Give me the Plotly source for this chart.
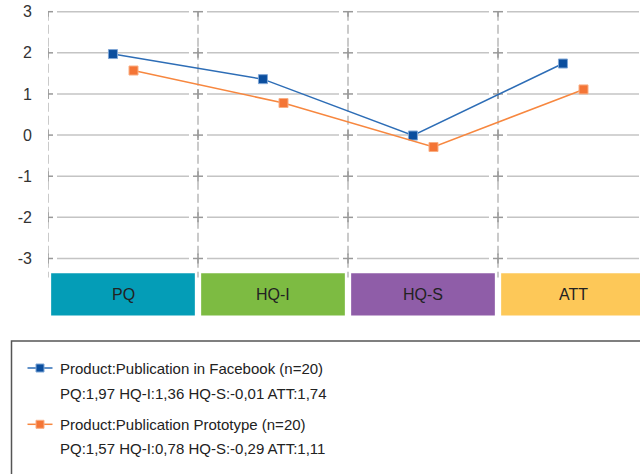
import plotly.graph_objects as go

categories = ["PQ", "HQ-I", "HQ-S", "ATT"]
cat_colors = ["#049DB7", "#7DBB42", "#8F5DA8", "#FDC858"]
series_names = ["Product:Publication in Facebook (n=20)", "Product:Publication Prototype (n=20)"]
facebook = [1.97, 1.36, -0.01, 1.74]
prototype = [1.57, 0.78, -0.29, 1.11]
y_ticks = [-3, -2, -1, 0, 1, 2, 3]

W, H = 640, 474
PX_X = 150.0          # pixels per category
PX_Y = 41.13          # pixels per y unit
left_px = 48
y_top = 3 + 11.7 / PX_Y
y_bot = 3 - (H - 11.7) / PX_Y
x_min = -0.5
x_max = -0.5 + (W - left_px) / PX_X

line_cols = ["#2D6DB6", "#F7873F"]
mark_cols = ["#0B4E9E", "#F47536"]
mark_edge = ["#7FA6D6", "#F9AE83"]
offsets = [-0.067, 0.07]

fig = go.Figure()
for s, (vals, name) in enumerate([(facebook, series_names[0]), (prototype, series_names[1])]):
    fig.add_trace(go.Scatter(
        x=[i + offsets[s] for i in range(len(categories))], y=vals, name=name,
        mode="lines+markers",
        line=dict(color=line_cols[s], width=1.5),
        marker=dict(symbol="square", size=9, color=mark_cols[s],
                    line=dict(color=mark_edge[s], width=1)),
        showlegend=False, cliponaxis=False))

shapes = []
gx = 6 / PX_X   # gap in x units
# horizontal grid segments
for yv in y_ticks:
    for i in range(len(categories)):
        shapes.append(dict(type="line", xref="x", yref="y", layer="below",
                           x0=i - 0.5 + gx + 3 / PX_X, x1=i + 0.5 - gx - 3 / PX_X, y0=yv, y1=yv,
                           line=dict(color="#C4C4C4", width=1.5)))
# vertical dashed grid lines
for i in range(len(categories) + 1):
    xv = i - 0.5
    shapes.append(dict(type="line", xref="x", yref="y", layer="below",
                       x0=xv, x1=xv, y0=3, y1=-3 - 19 / PX_Y,
                       line=dict(color="#CACACA", width=2, dash="9px,4px")))
    # crosses
    for yv in y_ticks:
        shapes.append(dict(type="line", xref="x", yref="y", layer="below",
                           x0=xv - 5 / PX_X, x1=xv + 5 / PX_X, y0=yv, y1=yv,
                           line=dict(color="#999999", width=1.5)))
        shapes.append(dict(type="line", xref="x", yref="y", layer="below",
                           x0=xv, x1=xv, y0=yv + (0 if yv == 3 else 5 / PX_Y), y1=yv - 5 / PX_Y,
                           line=dict(color="#999999", width=1.5)))
# category boxes
box_top = 3 - (273.3 - 11.7) / PX_Y
box_bot = 3 - (315.5 - 11.7) / PX_Y
annotations = []
for i, (c, col) in enumerate(zip(categories, cat_colors)):
    shapes.append(dict(type="rect", xref="x", yref="y", x0=i - 0.479, x1=i + 0.479,
                       y0=box_bot, y1=box_top, fillcolor=col, line=dict(width=0)))
    annotations.append(dict(x=i, y=(box_top + box_bot) / 2, xref="x", yref="y",
                            text=c, showarrow=False,
                            font=dict(family="Liberation Sans, Arial", size=16, color="#222222")))

# legend box
def px(x):
    return x / W

def py(y):
    return 1 - y / H

shapes.append(dict(type="rect", xref="paper", yref="paper",
                   x0=px(11.5), x1=px(W + 20), y0=py(341), y1=py(H + 20),
                   line=dict(color="#555555", width=1.5), fillcolor="rgba(0,0,0,0)"))

def fmt(v):
    return f"{v:.2f}".replace(".", ",")

rows = [(368, 393.3), (424.3, 448.3)]
for s, vals in enumerate([facebook, prototype]):
    y1, y2 = rows[s]
    shapes.append(dict(type="line", xref="paper", yref="paper",
                       x0=px(27.5), x1=px(52.5), y0=py(y1), y1=py(y1),
                       line=dict(color=line_cols[s], width=1.5)))
    shapes.append(dict(type="rect", xref="paper", yref="paper",
                       x0=px(36), x1=px(44), y0=py(y1 - 4), y1=py(y1 + 4),
                       fillcolor=mark_cols[s], line=dict(color=mark_edge[s], width=1)))
    annotations.append(dict(x=px(58), y=py(y1), xref="paper", yref="paper",
                            xanchor="left", yanchor="middle", showarrow=False,
                            text=series_names[s],
                            font=dict(family="Liberation Sans, Arial", size=15, color="#222222")))
    summary = " ".join(f"{c}:{fmt(v)}" for c, v in zip(categories, vals))
    annotations.append(dict(x=px(58), y=py(y2), xref="paper", yref="paper",
                            xanchor="left", yanchor="middle", showarrow=False,
                            text=summary,
                            font=dict(family="Liberation Sans, Arial", size=15, color="#222222")))

fig.update_layout(
    width=W, height=H,
    margin=dict(l=0, r=0, t=0, b=0),
    paper_bgcolor="white", plot_bgcolor="white",
    shapes=shapes, annotations=annotations,
    xaxis=dict(domain=[left_px / W, 1], range=[x_min, x_max], showgrid=False,
               zeroline=False, showline=False, showticklabels=False, ticks=""),
    yaxis=dict(domain=[0, 1], range=[y_bot, y_top], tickvals=y_ticks,
               ticktext=[str(t) for t in y_ticks], showgrid=False, zeroline=False,
               showline=False, ticks="", ticklabelstandoff=15, automargin=False,
               tickfont=dict(family="Liberation Sans, Arial", size=16, color="#333333")),
)
fig.write_html("out.html")
